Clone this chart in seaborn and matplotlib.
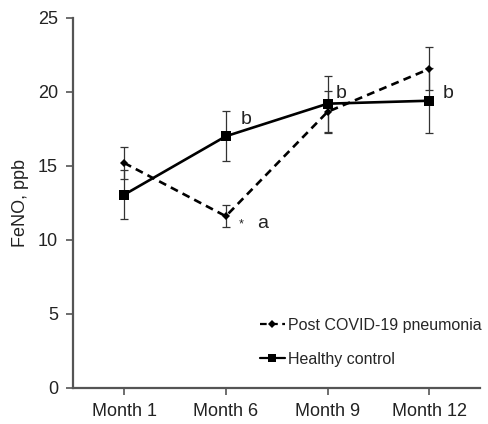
import matplotlib
matplotlib.use("Agg")
import matplotlib.pyplot as plt
import numpy as np
import pandas as pd
import seaborn as sns

# --- Data ---
MONTHS = ["Month 1", "Month 6", "Month 9", "Month 12"]
POST_COVID = [15.2, 11.6, 18.65, 21.55]
POST_COVID_ERR = [1.1, 0.75, 1.4, 1.45]
HEALTHY = [13.05, 17.0, 19.2, 19.4]
HEALTHY_ERR = [1.65, 1.7, 1.9, 2.2]

# significance letters: (x position, y value, text)
LETTER_X = [1.2, 2.13, 3.18]
LETTER_Y = [18.1, 19.9, 19.9]
LETTER_TXT = ["b", "b", "b"]

SPINE = "#555555"

sns.set_theme(style="ticks")
plt.rcParams["font.family"] = ["Liberation Sans", "DejaVu Sans"]

df = pd.DataFrame({
    "month": MONTHS * 2,
    "feno": POST_COVID + HEALTHY,
    "group": ["Post COVID-19 pneumonia"] * 4 + ["Healthy control"] * 4,
})

fig = plt.figure(figsize=(4.88, 4.24), dpi=100)
ax = fig.add_axes([0.150, 0.085, 0.834, 0.873])

# error bars first so markers sit on top
xpos = np.arange(len(MONTHS))
ax.errorbar(xpos, POST_COVID, yerr=POST_COVID_ERR, fmt="none", ecolor="#333333",
            elinewidth=0.9, capsize=3, capthick=0.9, zorder=1)
ax.errorbar(xpos, HEALTHY, yerr=HEALTHY_ERR, fmt="none", ecolor="#333333",
            elinewidth=0.9, capsize=3, capthick=0.9, zorder=1)

sns.lineplot(
    data=df, x="month", y="feno", hue="group", style="group",
    palette={"Post COVID-19 pneumonia": "black", "Healthy control": "black"},
    dashes={"Post COVID-19 pneumonia": (3, 2), "Healthy control": ""},
    markers={"Post COVID-19 pneumonia": "D", "Healthy control": "s"},
    markersize=6, linewidth=1.9, markeredgewidth=0, ax=ax, zorder=3,
)
# diamond smaller than the square, as in the original
for ln in ax.lines:
    if ln.get_marker() == "D":
        ln.set_markersize(4.5)
    elif ln.get_marker() == "s":
        ln.set_markersize(7)

for x, y, t in zip(LETTER_X, LETTER_Y, LETTER_TXT):
    ax.text(x, y, t, fontsize=14, ha="center", va="center", color="#222222")
ax.text(1.15, 11.05, "*", fontsize=9, ha="center", va="center", color="#222222")
ax.text(1.36, 11.1, "a", fontsize=14, ha="center", va="center", color="#222222")

ax.set_xlim(-0.5, 3.5)
ax.set_ylim(0, 25)
ax.set_yticks([0, 5, 10, 15, 20, 25])
ax.set_xlabel("")
ax.set_ylabel("FeNO, ppb", fontsize=13, color="#222222", labelpad=6)
ax.tick_params(axis="both", labelsize=13, colors=SPINE, labelcolor="#222222",
               length=5, width=1.2, pad=6)
sns.despine(ax=ax)
for side in ["left", "bottom"]:
    ax.spines[side].set_color(SPINE)
    ax.spines[side].set_linewidth(1.6)

leg = ax.legend(loc="lower right", bbox_to_anchor=(1.02, 0.04), frameon=False,
                fontsize=11.5, handlelength=1.6, handletextpad=0.2,
                labelspacing=1.2, borderaxespad=0)
for h in leg.legend_handles:
    h.set_linewidth(1.6)
    if h.get_marker() == "D":
        h.set_markersize(4)
    else:
        h.set_markersize(5.5)

fig.savefig("out.png", dpi=100)
